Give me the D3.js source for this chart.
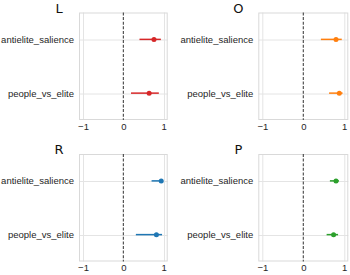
<!DOCTYPE html>
<html lang="en">
<head>
<meta charset="UTF-8">
<title>Coefficient plots</title>
<script src="https://d3js.org/d3.v7.min.js"></script>
<style>
html,body{margin:0;padding:0;background:#fff}
svg{display:block;font-family:"DejaVu Sans",sans-serif}
.axis text{fill:#262626;font-size:9.5px}
.axis path,.axis line{display:none}
.grid line{stroke:#e4e4e4;stroke-width:1}
.title{font-size:13px;fill:#111}
</style>
</head>
<body>
<svg id="chart" width="350" height="275"></svg>
<script>
// Panels and rows
var panels = ['L', 'O', 'R', 'P'];
var categories = ['antielite_salience', 'people_vs_elite'];
var colors = ['#d62728', '#ff7f0e', '#1f77b4', '#2ca02c'];

// Point estimates and interval ends, one value per category
var estimate = [[0.76, 0.64], [0.80, 0.88], [0.94, 0.82], [0.80, 0.74]];
var lower    = [[0.40, 0.19], [0.43, 0.63], [0.70, 0.31], [0.65, 0.57]];
var upper    = [[0.93, 0.88], [0.94, 0.96], [0.98, 0.96], [0.87, 0.85]];

var xTicks = [-1, 0, 1];

var svg = d3.select('#chart');

// plot-area boxes for the 2x2 grid
var boxes = [
  { x: 79, y: 12.5, w: 88.7, h: 107.5 },
  { x: 258.3, y: 12.5, w: 90, h: 107.5 },
  { x: 79, y: 154, w: 88.7, h: 107.5 },
  { x: 258.3, y: 154, w: 90, h: 107.5 }
];

panels.forEach(function(name, i) {
  var b = boxes[i];
  var g = svg.append('g').attr('transform', 'translate(' + b.x + ',' + b.y + ')');

  var x = d3.scaleLinear().domain([-1.1, 1.1]).range([0, b.w]);
  var y = d3.scalePoint().domain(categories).range([0, b.h]).padding(0.5);

  // grid
  var grid = g.append('g').attr('class', 'grid');
  grid.selectAll('.vx').data(xTicks.filter(function(t) { return t !== 0; })).join('line')
    .attr('x1', function(d) { return Math.round(x(d)) + 0.5; })
    .attr('x2', function(d) { return Math.round(x(d)) + 0.5; })
    .attr('y1', 0).attr('y2', b.h);
  grid.selectAll('.hy').data(categories).join('line')
    .attr('x1', 0).attr('x2', b.w)
    .attr('y1', function(d) { return Math.round(y(d)) + 0.5; })
    .attr('y2', function(d) { return Math.round(y(d)) + 0.5; });

  // frame
  g.append('rect').attr('x', 0.5).attr('y', 0.5).attr('width', b.w - 1).attr('height', b.h - 1)
    .attr('fill', 'none').attr('stroke', '#d9d9d9').attr('stroke-width', 1);

  // zero reference
  g.append('line')
    .attr('x1', x(0)).attr('x2', x(0)).attr('y1', 0).attr('y2', b.h)
    .attr('stroke', '#444').attr('stroke-width', 1.1).attr('stroke-dasharray', '3,1.6');

  // axes
  g.append('g').attr('class', 'axis').attr('transform', 'translate(0,' + b.h + ')')
    .call(d3.axisBottom(x).tickValues(xTicks).tickSize(0).tickPadding(3)
      .tickFormat(function(d) { return d < 0 ? '\u2212' + Math.abs(d) : d; }));
  g.append('g').attr('class', 'axis')
    .call(d3.axisLeft(y).tickSize(0).tickPadding(5));

  // interval bars
  var rows = categories.map(function(c, j) {
    return { cat: c, est: estimate[i][j], lo: lower[i][j], hi: upper[i][j] };
  });
  g.selectAll('.ci').data(rows).join('line')
    .attr('x1', function(d) { return x(d.lo); })
    .attr('x2', function(d) { return x(d.hi); })
    .attr('y1', function(d) { return y(d.cat); })
    .attr('y2', function(d) { return y(d.cat); })
    .attr('stroke', colors[i]).attr('stroke-width', 1.5);
  g.selectAll('.pt').data(rows).join('circle')
    .attr('cx', function(d) { return x(d.est); })
    .attr('cy', function(d) { return y(d.cat); })
    .attr('r', 2.5)
    .attr('fill', colors[i]);

  // panel letter
  svg.append('text').attr('class', 'title')
    .attr('x', b.x - 20).attr('y', b.y)
    .attr('text-anchor', 'middle')
    .text(name);
});
</script>
</body>
</html>
